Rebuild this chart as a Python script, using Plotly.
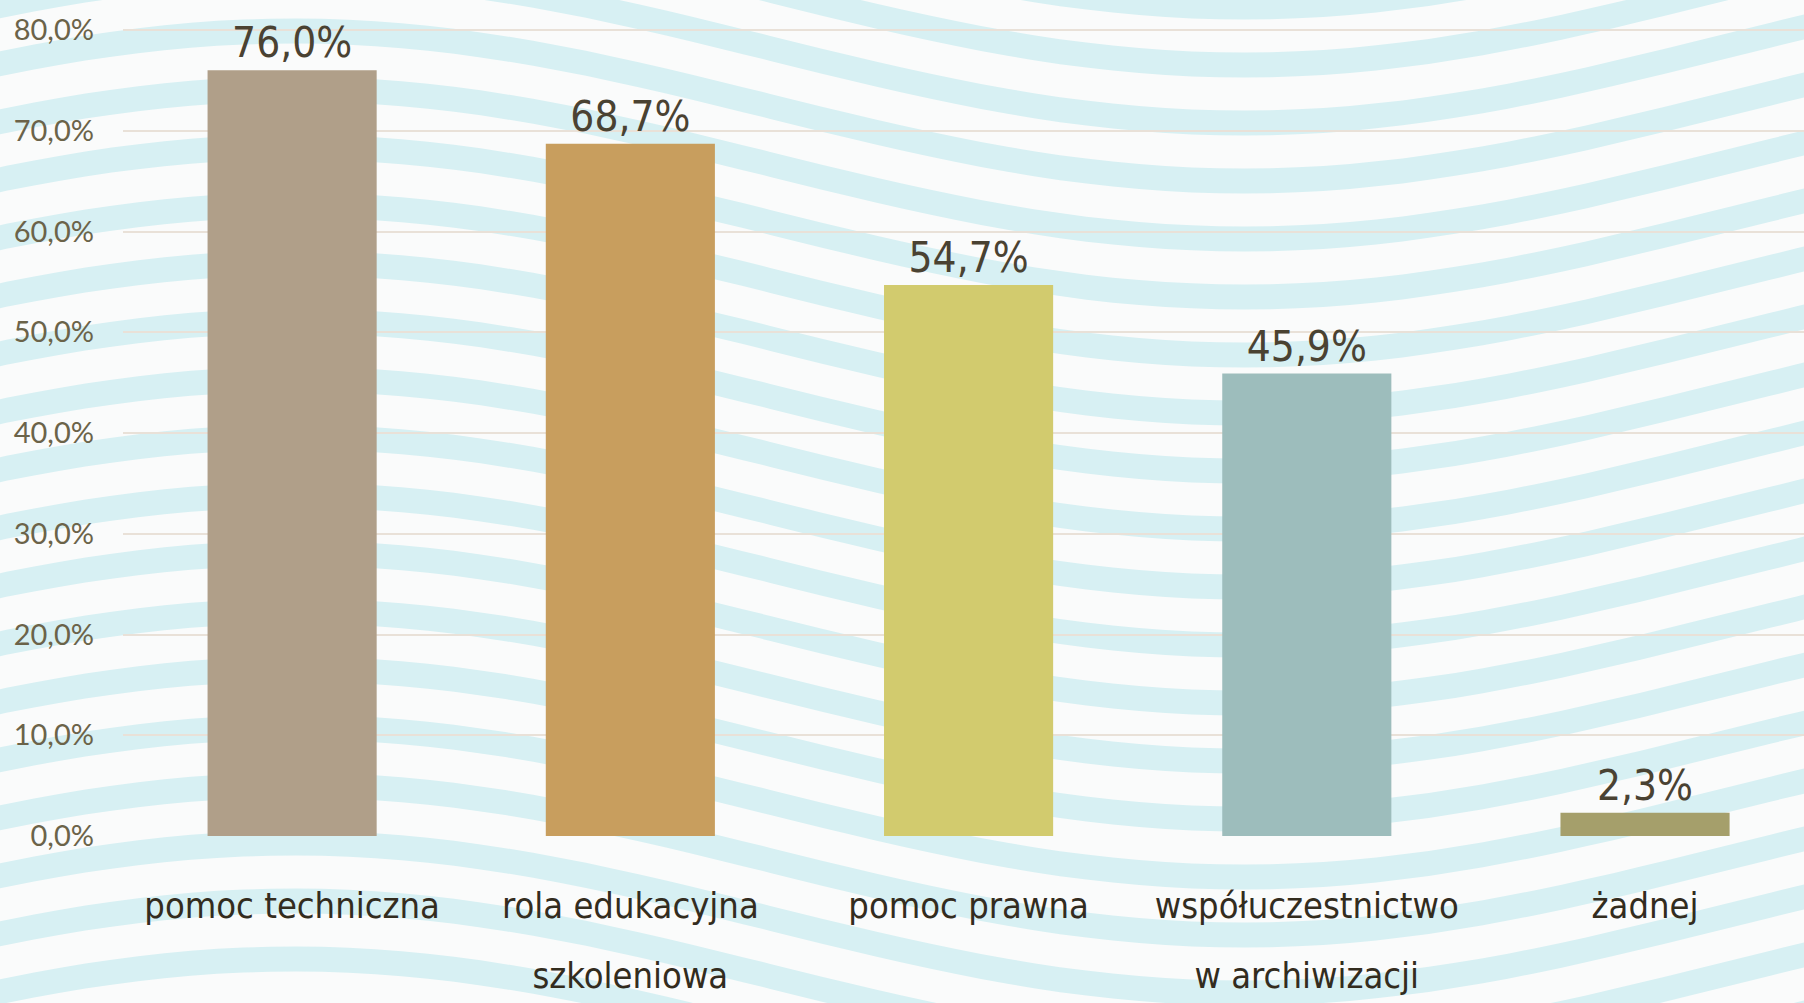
import math
import plotly.graph_objects as go

categories = ["pomoc techniczna", "rola edukacyjna szkoleniowa", "pomoc prawna",
              "współuczestnictwo w archiwizacji", "żadnej"]
category_lines = [["pomoc techniczna"], ["rola edukacyjna", "szkoleniowa"], ["pomoc prawna"],
                  ["współuczestnictwo", "w archiwizacji"], ["żadnej"]]
values = [76.0, 68.7, 54.7, 45.9, 2.3]
bar_colors = ["#B09F89", "#C89E5E", "#D2CB6E", "#9DBDBC", "#A59F6B"]
y_ticks = [0, 10, 20, 30, 40, 50, 60, 70, 80]
y_ticktext = [f"{v:.1f}".replace(".", ",") + "%" for v in y_ticks]

W, H = 1804, 1003
ML, MR, MT, MB = 123, 0, 27, 167
PW, PH = W - ML - MR, H - MT - MB

COND = "Liberation Sans Narrow, DejaVu Sans Condensed, Roboto"

x_ticktext = ["<br>".join(f"<span style='font-size:36px'>{ln}</span>" for ln in lines)
              for lines in category_lines]

fig = go.Figure(go.Bar(
    x=categories, y=values,
    marker=dict(color=bar_colors, line=dict(width=0)),
    text=[f"{v:.1f}".replace(".", ",") + "%" for v in values],
    textposition="outside",
    textfont=dict(family=COND, size=42, color="#4A4232"),
    cliponaxis=False,
    width=0.5,
))

# decorative wave background
def px2paper(px, py):
    return (px - ML) / PW, (H - MB - py) / PH

shapes = []
L, A, thick, period = 1900.0, 75.0, 25.0, 58.0
n = 70
yc = -300.0
while yc < H + 300:
    upper, lower = [], []
    for i in range(n + 1):
        px = -20 + (W + 40) * i / n
        base = yc - A * math.sin(2 * math.pi * px / L + 0.6)
        upper.append(px2paper(px, base - thick / 2))
        lower.append(px2paper(px, base + thick / 2))
    pts = upper + lower[::-1]
    path = "M " + " L ".join(f"{x:.4f},{y:.4f}" for x, y in pts) + " Z"
    shapes.append(dict(type="path", path=path, xref="paper", yref="paper",
                       fillcolor="#D7F0F3", line=dict(width=0), layer="below"))
    yc += period

fig.update_layout(
    width=W, height=H,
    margin=dict(l=ML, r=MR, t=MT, b=MB, pad=0, autoexpand=False),
    paper_bgcolor="#FAFBFB",
    plot_bgcolor="rgba(0,0,0,0)",
    showlegend=False,
    shapes=shapes,
    xaxis=dict(
        range=[-0.5, 4.47], tickvals=categories, ticktext=x_ticktext,
        showgrid=False, zeroline=False, showline=False, ticks="",
        tickfont=dict(family=COND, size=54, color="#332C1E"),
        ticklabelstandoff=27, automargin=False,
    ),
    yaxis=dict(
        range=[0, 80.3], tickvals=y_ticks, ticktext=y_ticktext,
        showgrid=True, gridcolor="#E9E1D8", gridwidth=2,
        zeroline=False, showline=False, ticks="",
        tickfont=dict(family="Lato, Open Sans", size=29, color="#6B6349"),
        ticklabelstandoff=28, automargin=False,
    ),
)

fig.write_html("out.html", config={"displayModeBar": False},
               post_script="document.body.style.margin='0';document.body.style.overflow='hidden';")
